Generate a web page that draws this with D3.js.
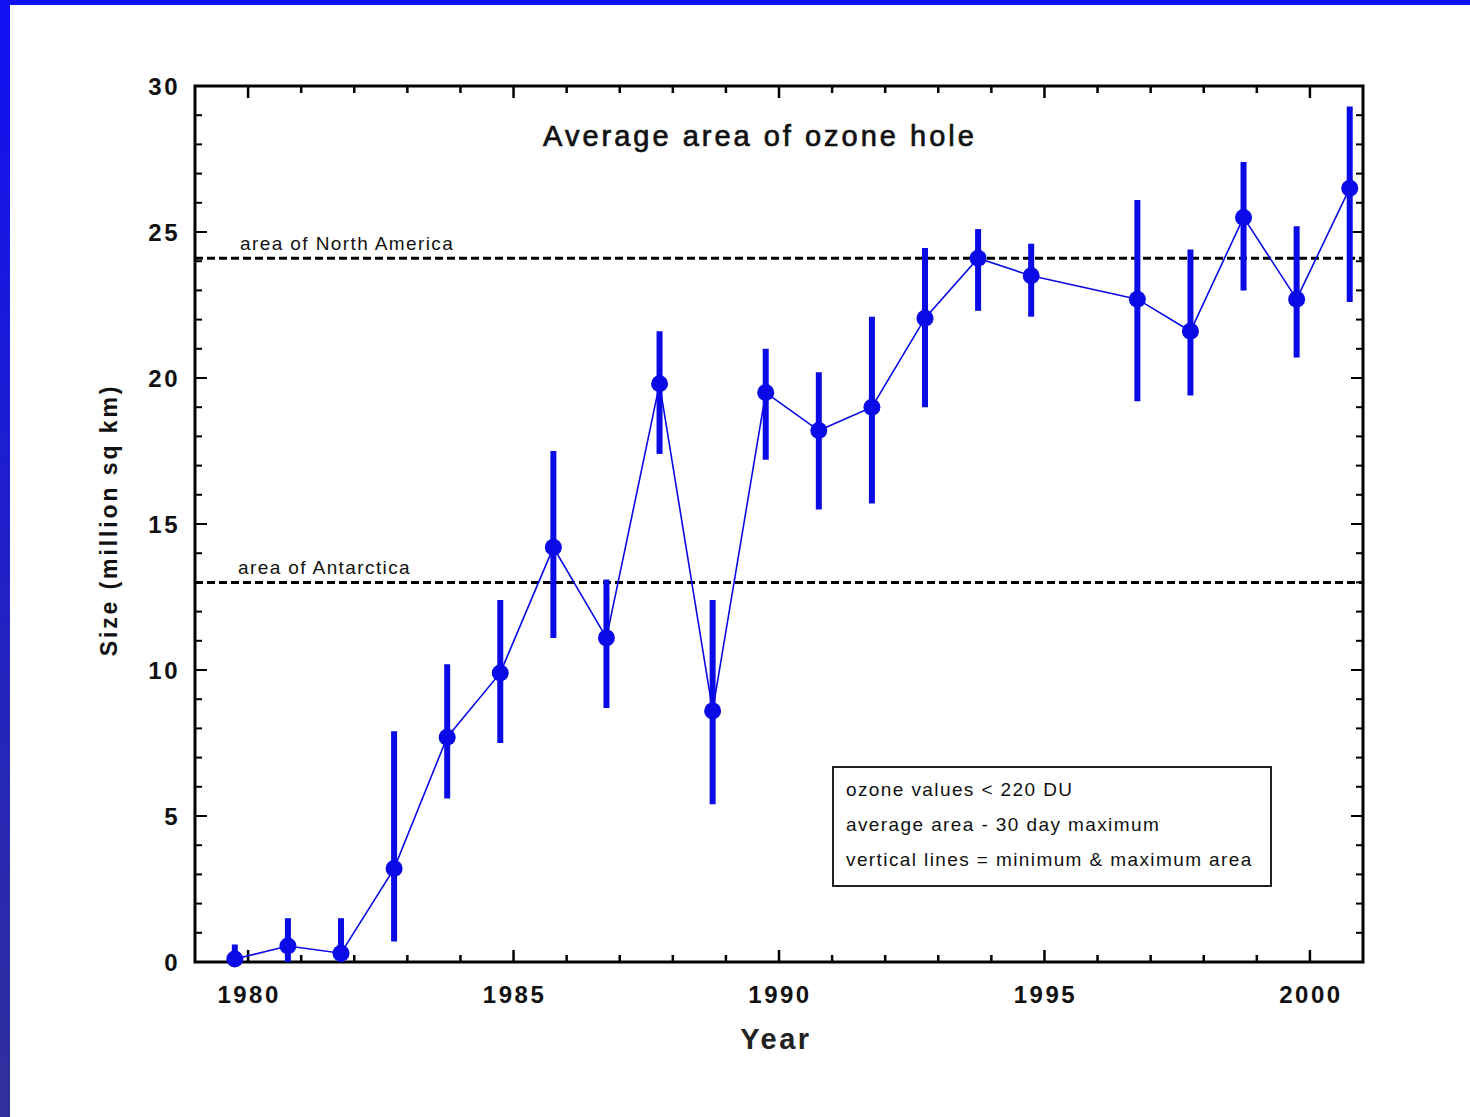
<!DOCTYPE html>
<meta charset="utf-8">
<script src="https://d3js.org/d3.v7.min.js"></script>
<style>
  body { margin: 0; background: #fff; }
  svg { display: block; font-family: "Liberation Sans", Arial, sans-serif; }
</style>
<svg id="chart" width="1470" height="1117"></svg>
<script>
// data (x plotted at year + 0.75, 1995 has no data)
var years  = [1979, 1980, 1981, 1982, 1983, 1984, 1985, 1986, 1987, 1988, 1989, 1990, 1991, 1992, 1993, 1994, 1996, 1997, 1998, 1999, 2000];
var avgArea = [0.1, 0.55, 0.3, 3.2, 7.7, 9.9, 14.2, 11.1, 19.8, 8.6, 19.5, 18.2, 19.0, 22.05, 24.1, 23.5, 22.7, 21.6, 25.5, 22.7, 26.5];
var minArea = [0, 0, 0, 0.7, 5.6, 7.5, 11.1, 8.7, 17.4, 5.4, 17.2, 15.5, 15.7, 19.0, 22.3, 22.1, 19.2, 19.4, 23.0, 20.7, 22.6];
var maxArea = [0.6, 1.5, 1.5, 7.9, 10.2, 12.4, 17.5, 13.1, 21.6, 12.4, 21.0, 20.2, 22.1, 24.45, 25.1, 24.6, 26.1, 24.4, 27.4, 25.2, 29.3];
var refNames = ["area of North America", "area of Antarctica"];
var refValues = [24.1, 13.0];
var xTicks = [1980, 1985, 1990, 1995, 2000];
var yTicks = [0, 5, 10, 15, 20, 25, 30];
var legendLines = ["ozone values < 220 DU", "average area - 30 day maximum", "vertical lines = minimum & maximum area"];

var svg = d3.select("#chart");

// blue frame of the slide
var grad = svg.append("defs").append("linearGradient")
  .attr("id", "sideGrad").attr("x1", 0).attr("y1", 0).attr("x2", 0).attr("y2", 1);
grad.append("stop").attr("offset", "0%").attr("stop-color", "#1010f4");
grad.append("stop").attr("offset", "100%").attr("stop-color", "#30309c");
svg.append("rect").attr("x", 0).attr("y", 0).attr("width", 1470).attr("height", 5).attr("fill", "#1010f4");
svg.append("rect").attr("x", 0).attr("y", 0).attr("width", 10).attr("height", 1117).attr("fill", "url(#sideGrad)");

var pLeft = 195, pRight = 1363, pTop = 86, pBottom = 962;

var x = d3.scaleLinear().domain([1979, 2001]).range([pLeft, pRight]);
var y = d3.scaleLinear().domain([0, 30]).range([pBottom, pTop]);

var g = svg.append("g");

// minor + major ticks, inward on all four sides
var minorX = d3.range(1980, 2001);
var minorY = d3.range(1, 30);
function tickLen(v, step) { return v % step === 0 ? 12 : 7; }

g.selectAll(".xtb").data(minorX).enter().append("line")
  .attr("x1", d => x(d)).attr("x2", d => x(d))
  .attr("y1", pBottom).attr("y2", d => pBottom - tickLen(d, 5))
  .attr("stroke", "#000").attr("stroke-width", 2.5);
g.selectAll(".xtt").data(minorX).enter().append("line")
  .attr("x1", d => x(d)).attr("x2", d => x(d))
  .attr("y1", pTop).attr("y2", d => pTop + tickLen(d, 5))
  .attr("stroke", "#000").attr("stroke-width", 2.5);
g.selectAll(".ytl").data(minorY).enter().append("line")
  .attr("y1", d => y(d)).attr("y2", d => y(d))
  .attr("x1", pLeft).attr("x2", d => pLeft + tickLen(d, 5))
  .attr("stroke", "#000").attr("stroke-width", 2);
g.selectAll(".ytr").data(minorY).enter().append("line")
  .attr("y1", d => y(d)).attr("y2", d => y(d))
  .attr("x1", pRight).attr("x2", d => pRight - tickLen(d, 5))
  .attr("stroke", "#000").attr("stroke-width", 2);

// frame
g.append("rect")
  .attr("x", pLeft).attr("y", pTop)
  .attr("width", pRight - pLeft).attr("height", pBottom - pTop)
  .attr("fill", "none").attr("stroke", "#000").attr("stroke-width", 3);

// tick labels
g.selectAll(".xl").data(xTicks).enter().append("text")
  .attr("x", d => x(d) + 1).attr("y", pBottom + 41)
  .attr("text-anchor", "middle")
  .attr("font-size", 24).attr("font-weight", "bold").attr("letter-spacing", 2.5)
  .attr("fill", "#111")
  .text(d => d);
g.selectAll(".yl").data(yTicks).enter().append("text")
  .attr("x", pLeft - 15).attr("y", d => y(d) + 9)
  .attr("text-anchor", "end")
  .attr("font-size", 24).attr("font-weight", "bold").attr("letter-spacing", 2.5)
  .attr("fill", "#111")
  .text(d => d);

// axis titles
g.append("text")
  .attr("x", 776).attr("y", 1049)
  .attr("text-anchor", "middle")
  .attr("font-size", 29).attr("letter-spacing", 2.5)
  .attr("font-weight", "bold").attr("fill", "#222")
  .text("Year");
g.append("text")
  .attr("transform", "translate(117,520) rotate(-90)")
  .attr("text-anchor", "middle")
  .attr("font-size", 23).attr("font-weight", "bold")
  .attr("letter-spacing", 2.9).attr("fill", "#111")
  .text("Size (million sq km)");

// chart title
g.append("text")
  .attr("x", 760).attr("y", 146)
  .attr("text-anchor", "middle")
  .attr("font-size", 29).attr("letter-spacing", 3)
  .attr("fill", "#111").attr("stroke", "#111").attr("stroke-width", 0.7)
  .text("Average area of ozone hole");

// reference lines
g.selectAll(".ref").data(refValues).enter().append("line")
  .attr("x1", pLeft).attr("x2", pRight)
  .attr("y1", d => y(d)).attr("y2", d => y(d))
  .attr("stroke", "#000").attr("stroke-width", 3)
  .attr("stroke-dasharray", "8,4");
g.selectAll(".refl").data(refNames).enter().append("text")
  .attr("x", (d, i) => i === 0 ? 240 : 238)
  .attr("y", (d, i) => y(refValues[i]) - 8)
  .attr("font-size", 19).attr("letter-spacing", 1.4).attr("fill", "#111")
  .text(d => d);

// data
var pts = years.map(function(yr, i) {
  return { x: yr + 0.75, avg: avgArea[i], lo: minArea[i], hi: maxArea[i] };
});

g.append("path")
  .datum(pts)
  .attr("d", d3.line().x(d => x(d.x)).y(d => y(d.avg)))
  .attr("fill", "none").attr("stroke", "#0a0ae6").attr("stroke-width", 1.6);

g.selectAll(".err").data(pts).enter().append("line")
  .attr("x1", d => x(d.x)).attr("x2", d => x(d.x))
  .attr("y1", d => y(d.lo)).attr("y2", d => y(d.hi))
  .attr("stroke", "#0a0ae6").attr("stroke-width", 6);

g.selectAll(".pt").data(pts).enter().append("circle")
  .attr("cx", d => x(d.x)).attr("cy", d => y(d.avg))
  .attr("r", 8.5).attr("fill", "#0a0ae6");

// legend box
var lg = g.append("g").attr("transform", "translate(833,767)");
lg.append("rect")
  .attr("width", 438).attr("height", 119)
  .attr("fill", "#fff").attr("stroke", "#222").attr("stroke-width", 2);
lg.selectAll("text").data(legendLines).enter().append("text")
  .attr("x", 13).attr("y", (d, i) => 29 + i * 35)
  .attr("font-size", 19).attr("letter-spacing", 1.4).attr("fill", "#111")
  .text(d => d);
</script>
